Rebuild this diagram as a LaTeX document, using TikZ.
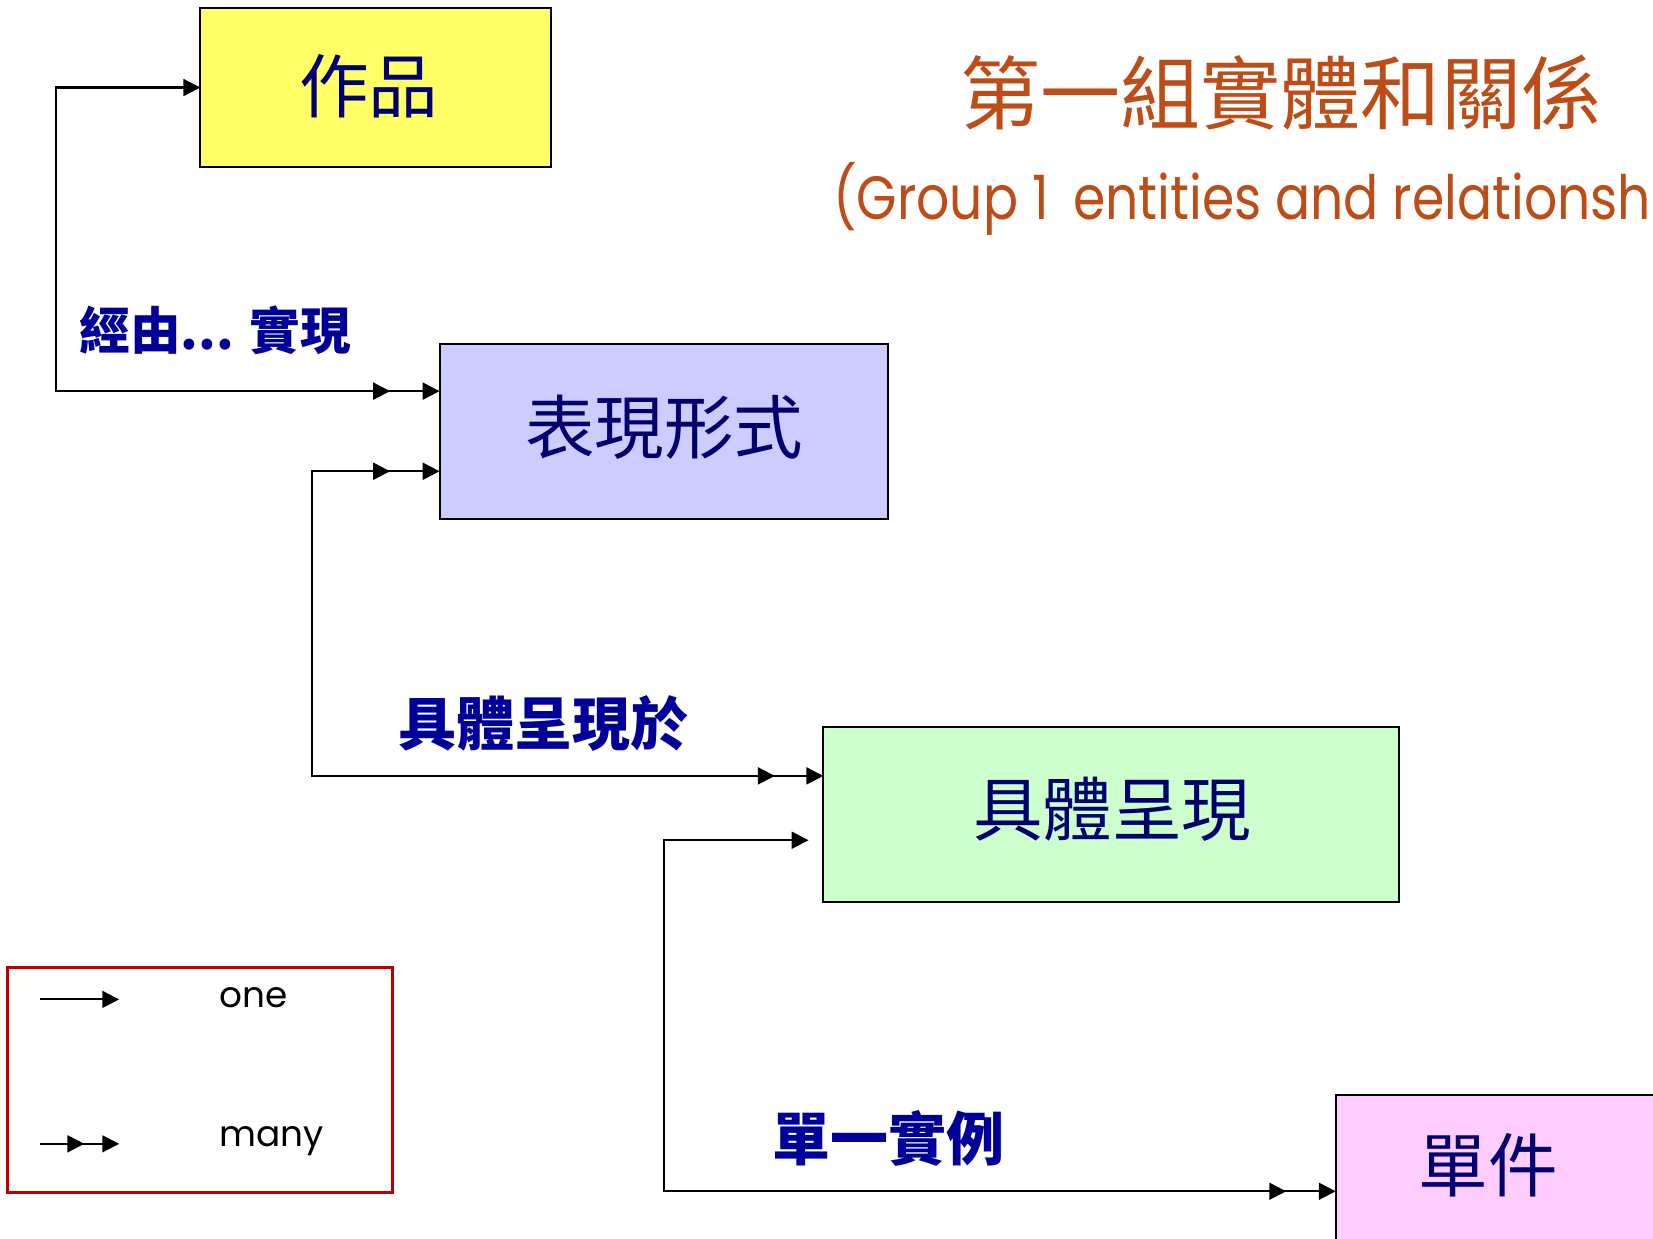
\documentclass[tikz,border=0pt]{standalone}
\usepackage{fontspec}
\setmainfont{Poppins}
\newfontfamily\cjk{Noto Sans CJK TC}
\usetikzlibrary{arrows.meta,decorations.markings}
\definecolor{workfill}{HTML}{FFFF66}
\definecolor{exprfill}{HTML}{CCCCFF}
\definecolor{manifill}{HTML}{CCFFCC}
\definecolor{itemfill}{HTML}{FFCCFF}
\definecolor{boxtxt}{HTML}{00006E}
\definecolor{lblblue}{HTML}{000099}
\definecolor{titlecol}{RGB}{190,76,22}
\definecolor{legred}{HTML}{C00000}
\tikzset{
  >={Triangle[length=8pt,width=8pt]},
  ebox/.style={draw=black, line width=1pt, rectangle, inner sep=0pt, outer sep=0pt},
  boxtext/.style={text=boxtxt, font=\cjk\fontsize{33pt}{40pt}\selectfont, inner sep=0pt},
  rellabel/.style={text=lblblue, font=\cjk\bfseries\fontsize{27.5pt}{33pt}\selectfont, inner sep=0pt, anchor=west},
  conn/.style={draw=black, line width=1pt},
  manyend/.style={postaction={decorate, decoration={markings, mark=at position -#1 with {\arrow{>}}}}},
  manystart/.style={postaction={decorate, decoration={markings, mark=at position #1 with {\arrowreversed{>}}}}},
  legtext/.style={font=\fontsize{17pt}{21pt}\selectfont, anchor=west, inner sep=0pt}
}
\begin{document}
\begin{tikzpicture}[x=0.5pt, y=-0.5pt]
\useasboundingbox (0,0) rectangle (1568,1175);
\clip (0,0) rectangle (1568,1175);
\fill[white] (0,0) rectangle (1568,1175);

% entity boxes
\node[ebox, fill=workfill, minimum width=166.5pt, minimum height=75pt] (work) at (356.5,83) {};
\node[boxtext] (worktext) at (350,82) {作品};
\node[ebox, fill=exprfill, minimum width=212.5pt, minimum height=83pt] (expr) at (629.5,409) {};
\node[boxtext] (exprtext) at (630,405) {表現形式};
\node[ebox, fill=manifill, minimum width=273pt, minimum height=83pt] (manif) at (1054,773) {};
\node[boxtext] (maniftext) at (1055,768) {具體呈現};
\node[ebox, fill=itemfill, minimum width=218pt, minimum height=106pt] (item) at (1485,1145) {};
\node[boxtext] (itemtext) at (1412,1105) {單件};

% title
\node[text=titlecol, font=\cjk\fontsize{38pt}{44pt}\selectfont, inner sep=0pt] (title) at (1215,88) {第一組實體和關係};
\node[text=titlecol, font=\fontsize{29pt}{34pt}\selectfont, inner sep=0pt, anchor=base west] (subtitle) at (790,208) {\scalebox{0.85}[1]{(Group 1\hspace{6pt} entities and relationships)}};

% bend coordinates
\coordinate (b1) at (53,371);
\coordinate (b2) at (296,447);
\coordinate (b3) at (296,736);
\coordinate (b4) at (630,797);
\coordinate (b5) at (630,1130);

% connectors
\draw[conn, <->, manyend=23.5pt] (work.west) -| (b1) -- (expr.west |- b1);
\draw[conn, <->, manystart=23.5pt, manyend=23pt] (expr.west |- b2) -- (b2) -- (b3) -- (manif.west |- b3);
\draw[conn, <->, shorten <=7pt, manyend=23.5pt] (manif.west |- b4) -- (b4) -- (b5) -- (item.west |- b5);

% relationship labels
\node[rellabel, font=\cjk\bfseries\fontsize{24pt}{29pt}\selectfont] (l1) at (75,313) {經由... 實現};
\node[rellabel] (l2) at (378,686) {具體呈現於};
\node[rellabel] (l3) at (732,1080) {單一實例};

% legend
\node[draw=legred, line width=1.5pt, rectangle, inner sep=0pt, minimum width=182.5pt, minimum height=106.5pt] (legend) at (189.5,1024.5) {};
\coordinate (o1) at (38,948);
\coordinate (o2) at (113,948);
\coordinate (m1) at (38,1085);
\coordinate (m2) at (113,1085);
\draw[conn, ->] (o1) -- (o2);
\draw[conn, ->, manyend=16.5pt] (m1) -- (m2);
\node[legtext] (one) at (208,946) {one};
\node[legtext] (many) at (208,1082) {many};
\end{tikzpicture}
\end{document}
